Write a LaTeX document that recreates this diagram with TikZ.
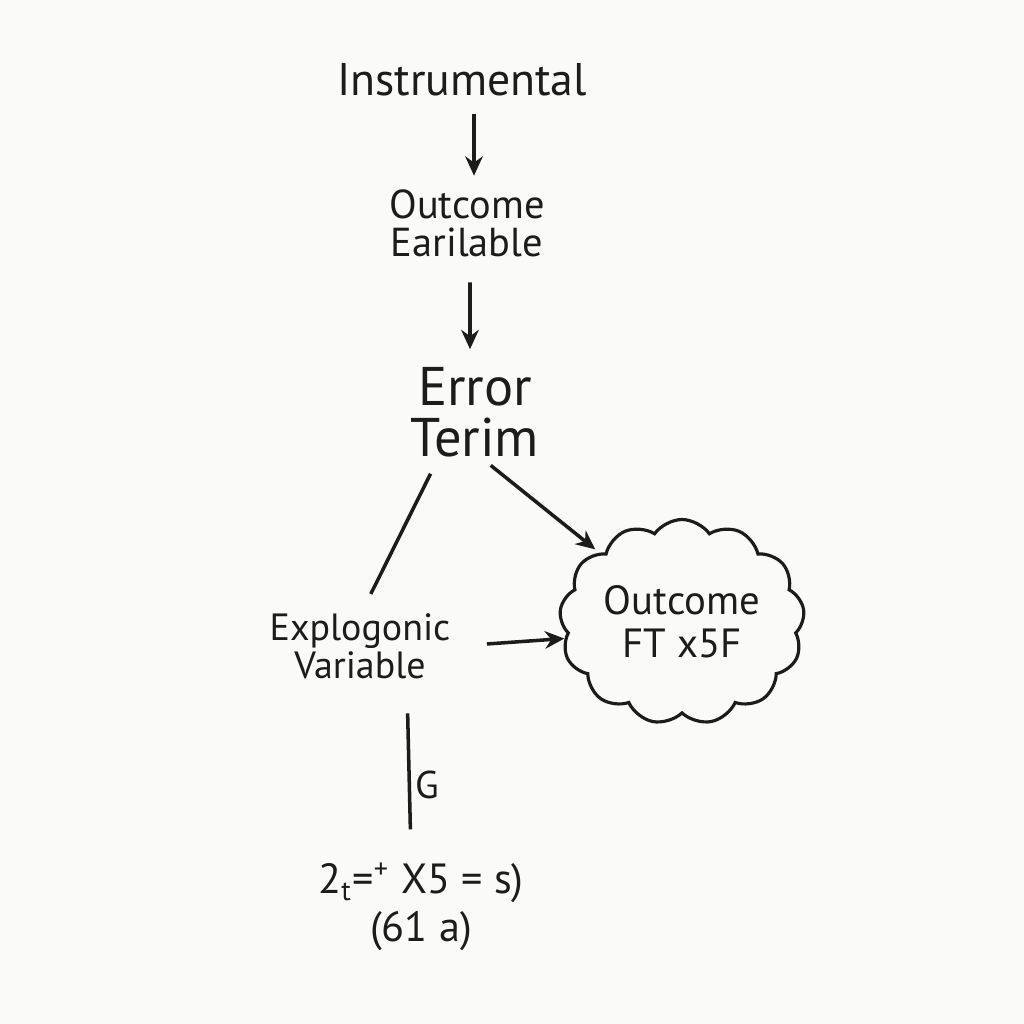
\documentclass[tikz,border=0pt]{standalone}
\usepackage{fontspec}
\setmainfont{PT Sans}
\usepackage{tikz}
\usetikzlibrary{shapes.symbols, arrows.meta}
\definecolor{paper}{RGB}{250, 250, 248}
\definecolor{ink}{RGB}{28, 28, 28}

\tikzset{
  lbl/.style={font=\fontsize{11.5}{10.8}\selectfont, align=center, text=ink, inner sep=2pt},
  toplbl/.style={lbl, font=\fontsize{13}{14}\selectfont},
  biglbl/.style={lbl, font=\fontsize{15.5}{14.6}\selectfont},
  puffy/.style={lbl, font=\fontsize{11.6}{12.2}\selectfont, cloud, cloud ignores aspect, inner sep=0pt,
    draw=ink, line width=0.9pt, cloud puffs=13, cloud puff arc=110,
    minimum width=2.45cm, minimum height=2.05cm},
  wire/.style={draw=ink, line width=1pt},
  arr/.style={wire, -{Stealth[length=5.5pt, width=5pt]}}
}

\begin{document}
\begin{tikzpicture}
  % Paper
  \fill[paper] (0, 0) rectangle (10.24, -10.24);

  % Labels
  \node[toplbl] (instr) at (4.62, -0.80) {Instrumental};
  \node[lbl] (outc) at (4.67, -2.23) {Outcome\\Earilable};
  \node[biglbl] (err) at (4.75, -4.12) {Error\\Terim};
  \node[lbl, font=\fontsize{10.8}{10.8}\selectfont] (expl) at (3.60, -6.46) {Explogonic\\Variable};
  \node[puffy] (cloud) at (6.82, -6.22) {Outcome\\FT x5F};
  \node[lbl, font=\fontsize{12}{13.6}\selectfont] (eq) at (4.21, -9.07) {2\textsubscript{t}=\textsuperscript{+} X5 = s)\\(61 a)};

  % Connectors
  \draw[arr, shorten <=0.1cm, shorten >=0.06cm] ([xshift=0.12cm]instr.south) -- ([xshift=0.07cm]outc.north);
  \draw[arr, shorten <=0.18cm, shorten >=0.1cm] ([xshift=0.03cm]outc.south) -- ([xshift=-0.05cm]err.north);
  \draw[wire, shorten <=0.1cm, shorten >=0.13cm] ([xshift=-0.4cm]err.south) -- ([xshift=0.05cm]expl.north);
  \draw[arr, shorten <=0.01cm, shorten >=0.05cm] ([xshift=0.15cm]err.south) -- (cloud.140);
  \draw[arr, shorten <=0.29cm] (expl.east) -- (cloud.188);
  \draw[wire, shorten <=0.27cm, shorten >=0.26cm] ([xshift=0.47cm]expl.south) -- ([xshift=-0.1cm]eq.north);

  % Side mark
  \node[lbl, font=\fontsize{11}{12}\selectfont] (gmark) at (4.27, -7.85) {G};
\end{tikzpicture}
\end{document}
